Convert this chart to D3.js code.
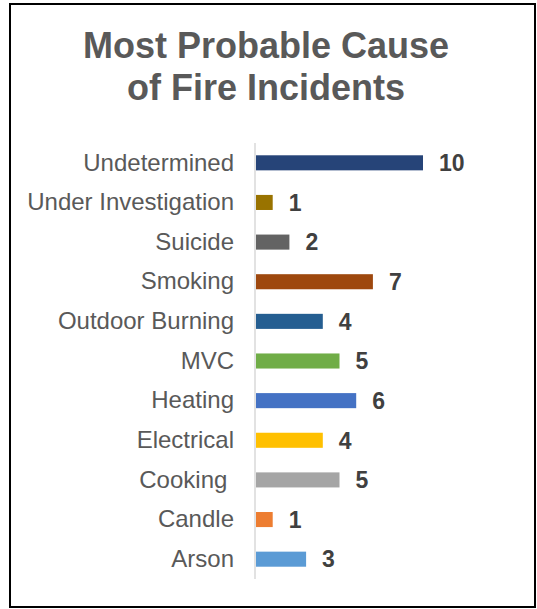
<!DOCTYPE html>
<html>
<head>
<meta charset="utf-8">
<script src="https://cdn.jsdelivr.net/npm/d3@7"></script>
<style>
  html, body { margin: 0; padding: 0; background: #fff; }
  svg text { font-family: "Liberation Sans", Arial, sans-serif; white-space: pre; }
</style>
</head>
<body>
<div id="chart"></div>
<script>
// chart data, top row first
var causes = ["Undetermined", "Under Investigation", "Suicide", "Smoking", "Outdoor Burning",
  "MVC", "Heating", "Electrical", "Cooking ", "Candle", "Arson"];
var counts = [10, 1, 2, 7, 4, 5, 6, 4, 5, 1, 3];
var barColors = ["#264478", "#997300", "#636363", "#9e480e", "#255e91",
  "#70ad47", "#4472c4", "#ffc000", "#a5a5a5", "#ed7d31", "#5b9bd5"];
var titleLines = ["Most Probable Cause", "of Fire Incidents"];

var width = 537, height = 609;
var fontFam = "'Liberation Sans', Arial, sans-serif";

var svg = d3.select("#chart")
  .append("svg")
  .attr("width", width)
  .attr("height", height);

// outer frame
svg.append("rect")
  .attr("x", 10).attr("y", 4)
  .attr("width", 525).attr("height", 603)
  .attr("fill", "#fff")
  .attr("stroke", "#000")
  .attr("stroke-width", 2);

// title
svg.append("g")
  .selectAll("text")
  .data(titleLines)
  .enter().append("text")
  .attr("x", 266)
  .attr("y", function(d, i) { return 58 + i * 42; })
  .attr("text-anchor", "middle")
  .attr("font-family", fontFam)
  .attr("font-size", 36)
  .attr("font-weight", "bold")
  .attr("fill", "#595959")
  .text(function(d) { return d; });

var data = causes.map(function(c, i) { return { cause: c, value: counts[i] }; });

var y = d3.scaleBand()
  .domain(causes)
  .range([143, 579])
  .paddingInner(0.62)
  .paddingOuter(0.31);

var x = d3.scaleLinear()
  .domain([0, 10])
  .range([256, 423]);

var color = d3.scaleOrdinal().domain(causes).range(barColors);

// category axis (line only, no ticks)
var yAxis = svg.append("g")
  .attr("transform", "translate(255,0)")
  .call(d3.axisLeft(y).tickSize(0).tickPadding(21));
yAxis.attr("font-family", fontFam);
yAxis.select(".domain")
  .attr("d", "M0,143V579")
  .attr("stroke", "#d9d9d9")
  .attr("stroke-width", 1.5);
yAxis.selectAll(".tick text")
  .attr("font-size", 24)
  .attr("fill", "#595959");

// bars
svg.append("g")
  .selectAll("rect")
  .data(data)
  .enter().append("rect")
  .attr("x", x(0))
  .attr("y", function(d) { return y(d.cause); })
  .attr("width", function(d) { return x(d.value) - x(0); })
  .attr("height", y.bandwidth())
  .attr("fill", function(d) { return color(d.cause); });

// value labels
svg.append("g")
  .selectAll("text")
  .data(data)
  .enter().append("text")
  .attr("x", function(d) { return x(d.value) + 16; })
  .attr("y", function(d) { return y(d.cause) + y.bandwidth() / 2; })
  .attr("dy", "0.36em")
  .attr("font-family", fontFam)
  .attr("font-size", 23)
  .attr("font-weight", "bold")
  .attr("fill", "#404040")
  .text(function(d) { return d.value; });
</script>
</body>
</html>
